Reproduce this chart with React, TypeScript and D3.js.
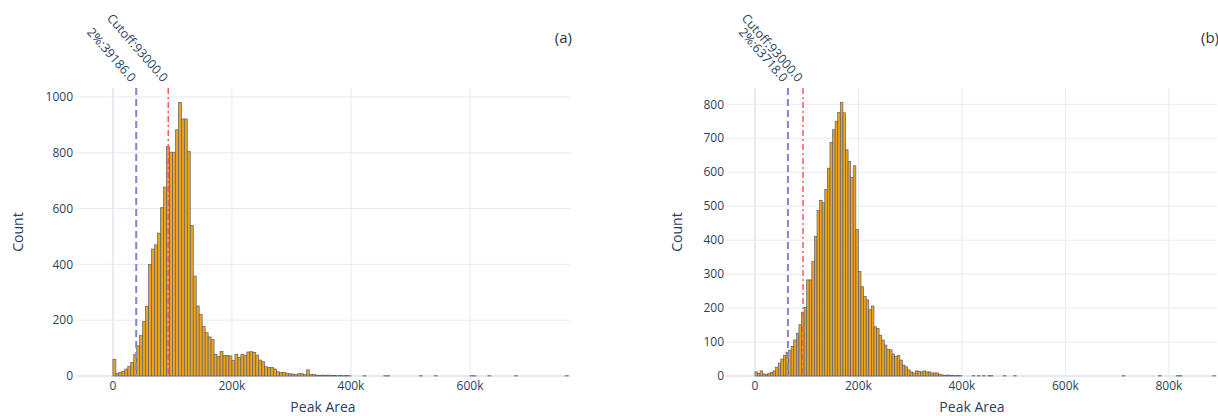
import React, { useRef, useEffect } from 'react';
import * as d3 from 'd3';

const BIN = 5000;

// (a) counts per 5k bin, starting at 0
const countsA = [
  60, 10, 12, 17, 25, 35, 48, 78, 108, 145,
  195, 250, 400, 455, 470, 512, 603, 677, 822, 802,
  802, 882, 980, 921, 921, 804, 539, 358, 251, 220,
  177, 155, 140, 130, 78, 70, 88, 73, 73, 72,
  55, 78, 66, 77, 73, 86, 87, 85, 75, 57,
  51, 33, 31, 30, 25, 15, 13, 13, 10, 8,
  7, 5, 8, 8, 5, 22, 5, 5, 3, 2,
  3, 2, 3, 2, 2, 1, 2, 1, 2, 1,
];
// (a) isolated bins further out: [bin start, count]
const tailA = [
  [420000, 1], [455000, 1], [460000, 1], [515000, 1], [540000, 1],
  [600000, 1], [605000, 1], [630000, 1], [675000, 1], [760000, 1],
];

// (b) counts per 5k bin, starting at 0
const countsB = [
  12, 8, 15, 6, 5, 8, 10, 15, 26, 38,
  50, 60, 70, 76, 87, 106, 126, 151, 188, 202,
  283, 283, 337, 411, 487, 517, 510, 549, 612, 688,
  725, 750, 776, 806, 775, 666, 632, 585, 619, 431,
  308, 263, 234, 224, 195, 206, 145, 140, 120, 106,
  91, 79, 77, 65, 57, 60, 47, 32, 27, 18,
  12, 9, 15, 14, 12, 15, 12, 12, 9, 9,
  9, 5, 3, 2, 3, 2, 2, 1, 2, 1,
];
const tailB = [
  [420000, 1], [430000, 1], [440000, 1], [450000, 1], [455000, 1],
  [480000, 1], [500000, 1], [710000, 1], [780000, 1], [815000, 1],
  [820000, 1], [885000, 1],
];

const yTicksA = [0, 200, 400, 600, 800, 1000];
const yTicksB = [0, 100, 200, 300, 400, 500, 600, 700, 800];
const xTicksA = [0, 200000, 400000, 600000];
const xTicksB = [0, 200000, 400000, 600000, 800000];

const cutoff = 93000;
const pctA = 39186;
const pctB = 63718;

const panels = [
  { tag: '(a)', counts: countsA, tail: tailA, yTicks: yTicksA, xTicks: xTicksA,
    xDomain: [-62000, 768000], yMax: 1032, pct: pctA,
    left: 76, right: 570, titleX: 18 },
  { tag: '(b)', counts: countsB, tail: tailB, yTicks: yTicksB, xTicks: xTicksB,
    xDomain: [-54000, 893000], yMax: 848, pct: pctB,
    left: 727, right: 1217, titleX: 677 },
];

const W = 1218;
const H = 416;
const top = 88;
const bottom = 376;
const font = '"Open Sans", "Noto Sans", sans-serif';
const textColor = '#2a3f5f';
const gridColor = '#e6eaf3';
const fmt = d3.format('~s');

const App = () => {
  const ref = useRef(null);

  useEffect(() => {
    const svg = d3.select(ref.current);
    svg.selectAll('*').remove();

    panels.forEach((p, pi) => {
      const x = d3.scaleLinear().domain(p.xDomain).range([p.left, p.right]);
      const y = d3.scaleLinear().domain([0, p.yMax]).range([bottom, top]);

      const bins = p.counts.map((n, i) => ({ x0: i * BIN, n }))
        .concat(p.tail.map(([x0, n]) => ({ x0, n })))
        .filter(d => d.n > 0);

      const g = svg.append('g');

      const clipId = `clip-${pi}`;
      g.append('clipPath').attr('id', clipId)
        .append('rect')
        .attr('x', p.left).attr('y', top - 2)
        .attr('width', p.right - p.left).attr('height', bottom - top + 4);

      // grid
      g.selectAll('.hgrid').data(p.yTicks.filter(t => t > 0)).join('line')
        .attr('x1', p.left).attr('x2', p.right)
        .attr('y1', d => y(d)).attr('y2', d => y(d))
        .attr('stroke', gridColor).attr('stroke-width', 1);
      g.selectAll('.vgrid').data(p.xTicks).join('line')
        .attr('x1', d => x(d)).attr('x2', d => x(d))
        .attr('y1', top).attr('y2', bottom)
        .attr('stroke', gridColor).attr('stroke-width', d => d === 0 ? 2 : 1);
      g.append('line')
        .attr('x1', p.left).attr('x2', p.right)
        .attr('y1', y(0)).attr('y2', y(0))
        .attr('stroke', gridColor).attr('stroke-width', 2);

      // bars
      g.append('g').attr('clip-path', `url(#${clipId})`)
        .selectAll('rect').data(bins).join('rect')
        .attr('x', d => x(d.x0))
        .attr('width', d => x(d.x0 + BIN) - x(d.x0))
        .attr('y', d => y(d.n))
        .attr('height', d => y(0) - y(d.n))
        .attr('fill', '#eca41f')
        .attr('stroke', '#5d5f70')
        .attr('stroke-width', 0.7);

      // reference lines
      g.append('line')
        .attr('x1', x(p.pct)).attr('x2', x(p.pct))
        .attr('y1', top).attr('y2', bottom)
        .attr('stroke', '#8383d6').attr('stroke-width', 2)
        .attr('stroke-dasharray', '7,4');
      g.append('line')
        .attr('x1', x(cutoff)).attr('x2', x(cutoff))
        .attr('y1', top).attr('y2', bottom)
        .attr('stroke', '#f45d5d').attr('stroke-width', 1.5)
        .attr('stroke-dasharray', '6,3,2,3');

      // rotated labels for the lines
      const labels = [
        { v: p.pct, text: `2%:${p.pct.toFixed(1)}` },
        { v: cutoff, text: `Cutoff:${cutoff.toFixed(1)}` },
      ];
      g.selectAll('.lbl').data(labels).join('text')
        .attr('transform', d => `translate(${x(d.v) - 6}, 83) rotate(49)`)
        .attr('text-anchor', 'end')
        .style('font-family', font).style('font-size', '12.5px')
        .attr('fill', textColor)
        .text(d => d.text);

      // y tick labels
      g.selectAll('.ytl').data(p.yTicks).join('text')
        .attr('x', p.left - 3).attr('y', d => y(d)).attr('dy', '0.35em')
        .attr('text-anchor', 'end')
        .style('font-family', font).style('font-size', '12px')
        .attr('fill', textColor)
        .text(d => d);

      // x tick labels
      g.selectAll('.xtl').data(p.xTicks).join('text')
        .attr('x', d => x(d)).attr('y', 386).attr('dy', '0.35em')
        .attr('text-anchor', 'middle')
        .style('font-family', font).style('font-size', '12px')
        .attr('fill', textColor)
        .text(d => fmt(d));

      // axis titles
      g.append('text')
        .attr('x', (p.left + p.right) / 2).attr('y', 407).attr('dy', '0.35em')
        .attr('text-anchor', 'middle')
        .style('font-family', font).style('font-size', '14px')
        .attr('fill', textColor)
        .text('Peak Area');
      g.append('text')
        .attr('transform', `translate(${p.titleX}, ${(top + bottom) / 2}) rotate(-90)`)
        .attr('dy', '0.35em')
        .attr('text-anchor', 'middle')
        .style('font-family', font).style('font-size', '14px')
        .attr('fill', textColor)
        .text('Count');

      // panel tag
      g.append('text')
        .attr('x', p.right + 2).attr('y', 38).attr('dy', '0.35em')
        .attr('text-anchor', 'end')
        .style('font-family', font).style('font-size', '15px')
        .attr('fill', '#333')
        .text(p.tag);
    });
  }, []);

  return (
    <svg ref={ref} width={W} height={H}
      style={{ position: 'absolute', left: 0, top: 0, background: '#fff' }} />
  );
};

export default App;
